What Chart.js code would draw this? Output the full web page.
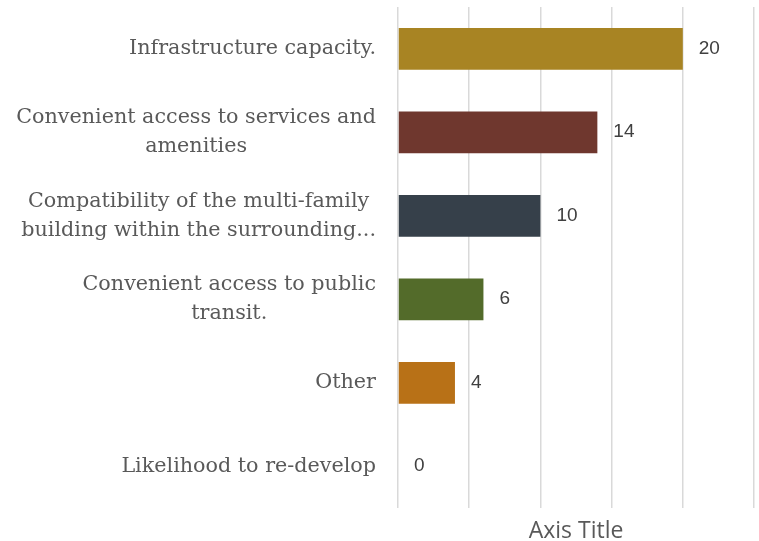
<!DOCTYPE html>
<html>
<head>
<meta charset="utf-8">
<script src="https://cdn.jsdelivr.net/npm/chart.js@4/dist/chart.umd.min.js"></script>
<style>
  html, body { margin: 0; padding: 0; background: #ffffff; }
  #wrap { width: 759px; height: 541px; }
</style>
</head>
<body>
<div id="wrap"><canvas id="chart" width="759" height="541"></canvas></div>
<script>
// Site-selection factors and the number of responses for each
const categories = [
  ["Infrastructure capacity."],
  ["Convenient access to services and", "amenities"],
  ["Compatibility of the multi-family", "building within the surrounding..."],
  ["Convenient access to public", "transit."],
  ["Other"],
  ["Likelihood to re-develop"]
];
const responses = [20, 14, 10, 6, 4, 0];
const barColors = ["#A88423", "#6F372E", "#36404A", "#536B2A", "#B87117", "#8A8A8A"];
const xTicks = { min: 0, max: 25, step: 5 };

const labelFont = { family: "'DejaVu Serif', serif", size: 20.7 };
const labelLineHeight = 29;
const labelGap = 22;

// Category labels: each block is right-aligned to the axis, its lines centred within it
const categoryLabels = {
  id: "categoryLabels",
  afterDraw(chart) {
    const ctx = chart.ctx;
    const yScale = chart.scales.y;
    const rightEdge = yScale.right - labelGap;
    ctx.save();
    ctx.font = labelFont.size + "px " + labelFont.family;
    ctx.fillStyle = "#595959";
    ctx.textAlign = "center";
    ctx.textBaseline = "middle";
    chart.data.labels.forEach((lines, i) => {
      const widest = Math.max(...lines.map(l => ctx.measureText(l).width));
      const cx = rightEdge - widest / 2;
      const cy = yScale.getPixelForValue(i);
      const top = cy - (lines.length - 1) * labelLineHeight / 2;
      lines.forEach((line, k) => ctx.fillText(line, cx, top + k * labelLineHeight));
    });
    ctx.restore();
  }
};

// Draws each bar's value just past its end
const valueLabels = {
  id: "valueLabels",
  afterDatasetsDraw(chart) {
    const ctx = chart.ctx;
    const meta = chart.getDatasetMeta(0);
    ctx.save();
    ctx.font = "19px 'Liberation Sans', Arial, sans-serif";
    ctx.fillStyle = "#404040";
    ctx.textAlign = "left";
    ctx.textBaseline = "middle";
    meta.data.forEach((bar, i) => {
      ctx.fillText(String(chart.data.datasets[0].data[i]), bar.x + 16, bar.y);
    });
    ctx.restore();
  }
};

new Chart(document.getElementById("chart"), {
  type: "bar",
  data: {
    labels: categories,
    datasets: [{
      data: responses,
      backgroundColor: barColors,
      barPercentage: 0.5,
      categoryPercentage: 1.0,
      borderWidth: 0
    }]
  },
  options: {
    indexAxis: "y",
    responsive: false,
    animation: false,
    layout: { padding: { top: 7, right: 5, left: 0, bottom: 0 } },
    plugins: { legend: { display: false }, tooltip: { enabled: false } },
    scales: {
      x: {
        min: xTicks.min,
        max: xTicks.max,
        ticks: { display: false, stepSize: xTicks.step },
        grid: { color: "#d9d9d9", lineWidth: 1.5, drawTicks: false },
        border: { display: false },
        title: {
          display: true,
          text: "Axis Title",
          color: "#595959",
          font: { family: "'Open Sans', 'Liberation Sans', sans-serif", size: 23 },
          padding: { top: 9, bottom: -4 }
        },
        afterFit(scale) { scale.height = 33; scale.paddingLeft = 0; scale.paddingRight = 0; }
      },
      y: {
        ticks: { display: false },
        grid: { display: false },
        border: { display: false },
        afterFit(scale) { scale.width = 398; scale.paddingTop = 0; scale.paddingBottom = 0; }
      }
    }
  },
  plugins: [valueLabels, categoryLabels]
});
</script>
</body>
</html>
